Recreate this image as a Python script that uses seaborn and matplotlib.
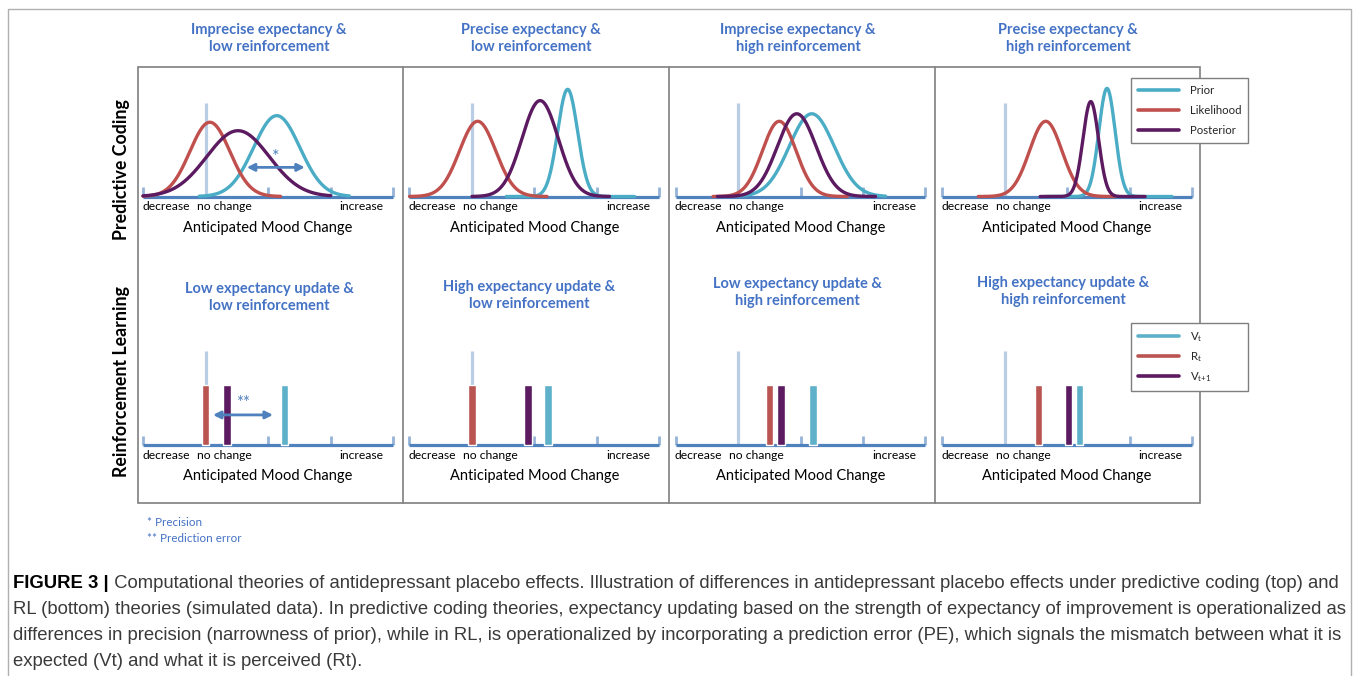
import numpy as np
import pandas as pd
import matplotlib
matplotlib.use("Agg")
import matplotlib.pyplot as plt
import seaborn as sns
from matplotlib.lines import Line2D
from matplotlib.patches import Rectangle

# ---------------- DATA ----------------
PC_TITLES = [
    "Imprecise expectancy &\nlow reinforcement",
    "Precise expectancy &\nlow reinforcement",
    "Imprecise expectancy &\nhigh reinforcement",
    "Precise expectancy &\nhigh reinforcement",
]
RL_TITLES = [
    "Low expectancy update &\nlow reinforcement",
    "High expectancy update &\nlow reinforcement",
    "Low expectancy update &\nhigh reinforcement",
    "High expectancy update &\nhigh reinforcement",
]
CURVES = ["Prior", "Likelihood", "Posterior"]
TICK_LABELS = ["decrease", "no change", "increase"]
TICK_LABEL_POS = [0.37, 1.3, 3.5]
AXIS_TICKS = [0, 2, 3, 4]
NO_CHANGE = 1.0

# simulated gaussians (mood change units), one value per column
prior_mean = [2.14, 2.53, 2.18, 2.64]
prior_sd = [0.37, 0.16, 0.36, 0.13]
prior_peak = [0.86, 1.14, 0.88, 1.15]
prior_lo = [0.9, 1.55, 1.0, 1.65]
prior_hi = [3.3, 3.6, 3.36, 3.68]

lik_mean = [1.07, 1.09, 1.66, 1.66]
lik_sd = [0.32, 0.29, 0.27, 0.26]
lik_peak = [0.79, 0.80, 0.80, 0.80]
lik_lo = [0.0, 0.0, 0.6, 0.58]
lik_hi = [2.2, 2.2, 2.75, 2.77]

post_mean = [1.52, 2.09, 1.94, 2.38]
post_sd = [0.50, 0.29, 0.31, 0.125]
post_peak = [0.70, 1.02, 0.88, 1.01]
post_lo = [0.0, 1.0, 0.67, 1.57]
post_hi = [3.0, 3.2, 3.2, 3.25]

# reinforcement learning values
BAR_NAMES = ["Rt", "Vt+1", "Vt"]
rt_pos = [1.0, 1.0, 1.5, 1.54]
vt1_pos = [1.34, 1.9, 1.69, 2.02]
vt_pos = [2.26, 2.22, 2.2, 2.2]
bar_height = [0.64, 0.64, 0.64, 0.64]

# annotation arrows in first column: (from, to, height)
precision_arrow = (1.66, 2.59, 0.31)
pe_arrow = (1.12, 2.08, 0.32)

CAPTION_BOLD = "FIGURE 3 |"
CAPTION_LINES = [
    " Computational theories of antidepressant placebo effects. Illustration of differences in antidepressant placebo effects under predictive coding (top) and",
    "RL (bottom) theories (simulated data). In predictive coding theories, expectancy updating based on the strength of expectancy of improvement is operationalized as",
    "differences in precision (narrowness of prior), while in RL, is operationalized by incorporating a prediction error (PE), which signals the mismatch between what it is",
    "expected (Vt) and what it is perceived (Rt).",
]

# ---------------- STYLE ----------------
PALETTE = {"Prior": "#4BACC6", "Likelihood": "#C0504D", "Posterior": "#5C1A60"}
BAR_COLORS = {"Rt": "#BA5450", "Vt+1": "#5C1A60", "Vt": "#5FB1C9"}
BASE_C = "#4F81BD"
TICK_C = "#95B3D7"
NC_C = "#B9CDE5"
BLUE_TXT = "#4472C4"
FRAME_C = "#7F7F7F"

W, H = 1355, 676
X0 = [143, 409.5, 675.5, 942]
UNIT_X = 62.5
UNIT_Y = 94
BASES = [196.5, 445]

sns.set_theme(style="white")
plt.rcParams["font.family"] = ["Lato", "DejaVu Sans"]
plt.rcParams["mathtext.fontset"] = "custom"
plt.rcParams["mathtext.rm"] = "Lato"


def px(x):
    return x / W


def py(y):
    return 1 - y / H


def gauss_frame(i):
    parts = []
    params = [
        ("Prior", prior_mean, prior_sd, prior_peak, prior_lo, prior_hi),
        ("Likelihood", lik_mean, lik_sd, lik_peak, lik_lo, lik_hi),
        ("Posterior", post_mean, post_sd, post_peak, post_lo, post_hi),
    ]
    for name, m, s, p, lo, hi in params:
        x = np.linspace(lo[i], hi[i], 300)
        y = p[i] * np.exp(-0.5 * ((x - m[i]) / s[i]) ** 2)
        parts.append(pd.DataFrame({"x": x, "y": y, "curve": name}))
    return pd.concat(parts, ignore_index=True)


def draw_axis(ax):
    ax.plot([0, 4], [0, 0], color=BASE_C, lw=2.3, solid_capstyle="butt", zorder=2)
    ax.vlines(AXIS_TICKS, 0, 0.1, color=TICK_C, lw=2.0, zorder=1)
    ax.vlines(NO_CHANGE, 0, 1.0, color=NC_C, lw=2.3, zorder=1)
    for lab, xpos in zip(TICK_LABELS, TICK_LABEL_POS):
        ax.text(xpos, -0.11, lab, ha="center", va="center", fontsize=8.7, color="black")
    ax.text(2.0, -0.335, "Anticipated Mood Change", ha="center", va="center",
            fontsize=10.5, color="black")


fig = plt.figure(figsize=(W / 100, H / 100), dpi=100)

axes = [[None] * 4, [None] * 4]
for r in range(2):
    for c in range(4):
        left = X0[c] - 0.2 * UNIT_X
        bottom = BASES[r] + 0.4 * UNIT_Y
        top = BASES[r] - 1.3 * UNIT_Y
        ax = fig.add_axes([px(left), py(bottom), px(4.4 * UNIT_X), (bottom - top) / H])
        ax.set_xlim(-0.2, 4.2)
        ax.set_ylim(-0.4, 1.3)
        ax.set_axis_off()
        axes[r][c] = ax

# ---------------- PREDICTIVE CODING ----------------
for c in range(4):
    ax = axes[0][c]
    draw_axis(ax)
    sns.lineplot(data=gauss_frame(c), x="x", y="y", hue="curve", hue_order=CURVES,
                 palette=PALETTE, estimator=None, sort=False, linewidth=2.4,
                 legend=False, ax=ax, zorder=4)
    ax.set_axis_off()

# ---------------- REINFORCEMENT LEARNING ----------------
for c in range(4):
    ax = axes[1][c]
    draw_axis(ax)
    bars = pd.DataFrame({
        "pos": [rt_pos[c], vt1_pos[c], vt_pos[c]],
        "height": [bar_height[c]] * 3,
        "name": BAR_NAMES,
    })
    ax.bar(bars["pos"], bars["height"], width=0.12,
           color=[BAR_COLORS[n] for n in bars["name"]], zorder=3)

# arrows
lo, hi, yy = precision_arrow
axes[0][0].annotate("", xy=(lo, yy), xytext=(hi, yy),
                    arrowprops=dict(arrowstyle="<|-|>", color=BASE_C, lw=2.0,
                                    mutation_scale=11, shrinkA=0, shrinkB=0), zorder=6)
axes[0][0].text((lo + hi) / 2, yy + 0.11, "*", ha="center", va="center",
                fontsize=13, color=BASE_C, zorder=6)
lo, hi, yy = pe_arrow
axes[1][0].annotate("", xy=(lo, yy), xytext=(hi, yy),
                    arrowprops=dict(arrowstyle="<|-|>", color=BASE_C, lw=2.0,
                                    mutation_scale=11, shrinkA=0, shrinkB=0), zorder=6)
axes[1][0].text((lo + hi) / 2, yy + 0.13, "**", ha="center", va="center",
                fontsize=12, color=BASE_C, zorder=6)

# ---------------- TITLES ----------------
pc_title_x = [269, 531, 798, 1068]
rl_title_x = [269, 529, 797, 1063]
rl_title_y = [297.5, 295.5, 292.5, 291.5]
for c in range(4):
    fig.text(px(pc_title_x[c]), py(38.5), PC_TITLES[c], ha="center", va="center",
             fontsize=10.5, fontweight="bold", color=BLUE_TXT, linespacing=1.35)
    fig.text(px(rl_title_x[c]), py(rl_title_y[c]), RL_TITLES[c], ha="center", va="center",
             fontsize=10.5, fontweight="bold", color=BLUE_TXT, linespacing=1.35)

fig.text(px(122), py(170), "Predictive Coding", rotation=90, ha="center", va="center",
         fontsize=12.8, fontweight="bold", color="black")
fig.text(px(122), py(382), "Reinforcement Learning", rotation=90, ha="center", va="center",
         fontsize=12.8, fontweight="bold", color="black")

# ---------------- FRAMES ----------------
fig.add_artist(Rectangle((px(138), py(503)), px(1200 - 138), (503 - 67) / H,
                         fill=False, ec=FRAME_C, lw=1.2, transform=fig.transFigure))
for xd in [403, 669, 935]:
    fig.add_artist(Line2D([px(xd), px(xd)], [py(67), py(503)], color=FRAME_C, lw=1.2,
                          transform=fig.transFigure))
fig.add_artist(Rectangle((px(8), py(690)), px(1351 - 8), (690 - 9) / H,
                         fill=False, ec="#B0B0B0", lw=1.0, transform=fig.transFigure))

# ---------------- LEGENDS ----------------
pc_handles = [Line2D([], [], color=PALETTE[n], lw=2.6) for n in CURVES]
rl_handles = [Line2D([], [], color=BAR_COLORS[n], lw=2.6) for n in ["Vt", "Rt", "Vt+1"]]
rl_labels = [r"V$_\mathrm{t}$", r"R$_\mathrm{t}$", r"V$_{\mathrm{t}\!+\!\mathrm{1}}$"]
for handles, labels, ytop, lsp in [(pc_handles, CURVES, 78, 0.8),
                                   (rl_handles, rl_labels, 323, 0.55)]:
    leg = fig.legend(handles, labels, loc="upper left", mode="expand",
                     bbox_to_anchor=(px(1131), py(ytop + 65), px(117), 65 / H),
                     bbox_transform=fig.transFigure,
                     borderaxespad=0, fontsize=8.2, handlelength=3.6, handletextpad=1.0,
                     labelspacing=lsp, borderpad=0.6, frameon=True, fancybox=False,
                     edgecolor=FRAME_C, framealpha=1)
    leg.get_frame().set_linewidth(1.0)

# ---------------- FOOTNOTES ----------------
fig.text(px(147), py(523), "* Precision", ha="left", va="center", fontsize=8.4, color=BLUE_TXT)
fig.text(px(147), py(538), "** Prediction error", ha="left", va="center", fontsize=8.4,
         color=BLUE_TXT)

# ---------------- CAPTION ----------------
cap_family = ["Liberation Sans Narrow", "Liberation Sans"]
cap_y = [583, 609, 635, 661]
cap_c = "#3a3a3a"
renderer = fig.canvas.get_renderer()
t_bold = fig.text(px(13), py(cap_y[0]), CAPTION_BOLD, ha="left", va="center",
                  fontsize=12, fontweight="bold", family=cap_family, color="black")
t_rest = fig.text(px(13), py(cap_y[0]), CAPTION_LINES[0], ha="left", va="center",
                  fontsize=12, family=cap_family, color=cap_c)
w_total = t_bold.get_window_extent(renderer).width + t_rest.get_window_extent(renderer).width
size = 12 * (1347 - 13) / w_total
t_bold.set_fontsize(size)
t_rest.set_fontsize(size)
t_rest.set_x(px(13 + t_bold.get_window_extent(renderer).width))
for line, yc in zip(CAPTION_LINES[1:], cap_y[1:]):
    fig.text(px(13), py(yc), line, ha="left", va="center", fontsize=size,
             family=cap_family, color=cap_c)

fig.savefig("out.png", dpi=100, facecolor="white")
